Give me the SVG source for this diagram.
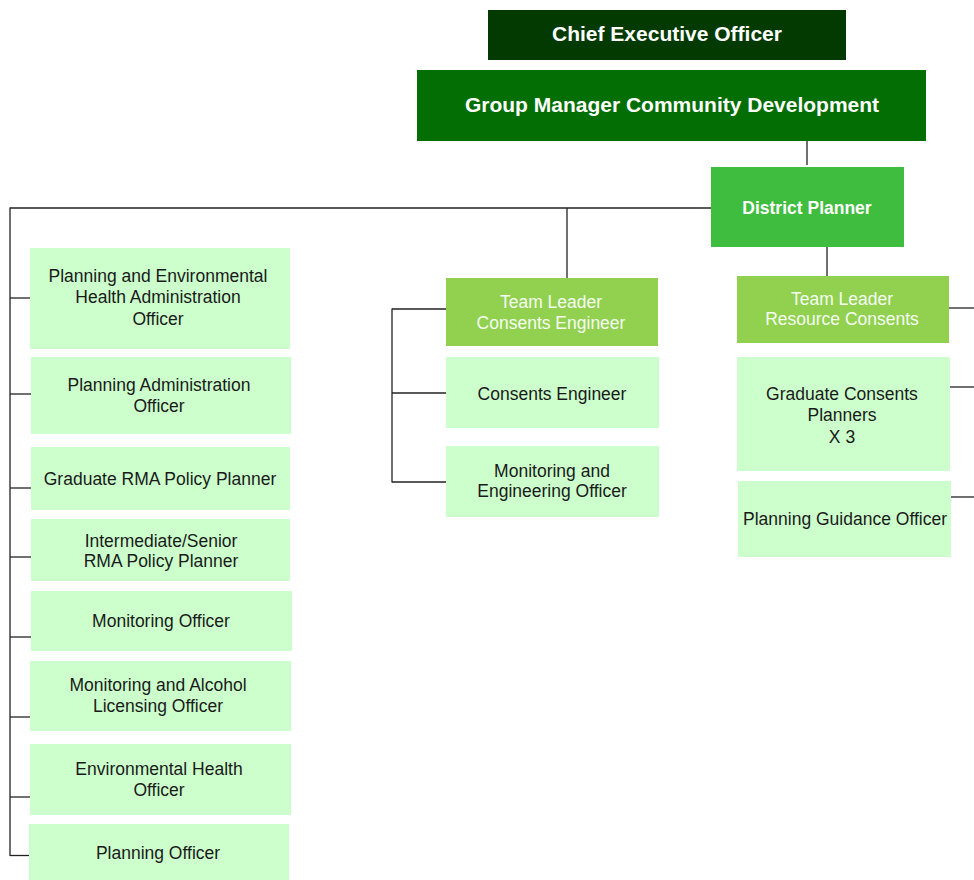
<svg xmlns="http://www.w3.org/2000/svg" width="974" height="880" viewBox="0 0 974 880">
<style>
text{font-family:"Liberation Sans",Arial,sans-serif;text-anchor:middle}
.t{font-size:17.5px;fill:#1a1a1a}
.w{font-size:17.5px;fill:#f4fff0}
.b{font-weight:bold;fill:#ffffff}
.lt{fill:#ccffcc}
.tl{fill:#92d050}
#conn line{stroke:#222;stroke-width:1.3}
</style>
<rect width="974" height="880" fill="#fff"/>
<g id="conn">
<line x1="807" y1="141" x2="807" y2="165"/>
<line x1="10" y1="208" x2="711" y2="208"/>
<line x1="10" y1="207.5" x2="10" y2="856"/>
<line x1="567" y1="208" x2="567" y2="278"/>
<line x1="827" y1="247" x2="827" y2="276"/>
<line x1="10" y1="298" x2="30" y2="298"/>
<line x1="10" y1="394" x2="31" y2="394"/>
<line x1="10" y1="488" x2="31" y2="488"/>
<line x1="10" y1="557" x2="31" y2="557"/>
<line x1="10" y1="637" x2="31" y2="637"/>
<line x1="10" y1="717" x2="30" y2="717"/>
<line x1="10" y1="797" x2="30" y2="797"/>
<line x1="10" y1="855.5" x2="29" y2="855.5"/>
<line x1="392" y1="308.5" x2="392" y2="482.5"/>
<line x1="392" y1="309" x2="446" y2="309"/>
<line x1="392" y1="393" x2="446" y2="393"/>
<line x1="392" y1="482" x2="446" y2="482"/>
<line x1="949" y1="308" x2="974" y2="308"/>
<line x1="950" y1="387" x2="974" y2="387"/>
<line x1="951" y1="497" x2="974" y2="497"/>
</g>
<g id="ceo"><rect x="488" y="10" width="358" height="50" fill="#023a02"/><text class="b" x="667" y="41" font-size="21">Chief Executive Officer</text></g>
<g id="gm"><rect x="417" y="70" width="509" height="71" fill="#036e03"/><text class="b" x="672" y="112" font-size="21">Group Manager Community Development</text></g>
<g id="dp"><rect x="711" y="167" width="193" height="80" fill="#3fbd3f"/><text class="b" x="807" y="214" font-size="17.5">District Planner</text></g>
<g id="n1"><rect class="lt" x="30" y="248" width="260" height="101"/><text class="t" x="158" y="282">Planning and Environmental</text><text class="t" x="158" y="303">Health Administration</text><text class="t" x="158" y="325">Officer</text></g>
<g id="n2"><rect class="lt" x="31" y="357" width="260" height="77"/><text class="t" x="159" y="391">Planning Administration</text><text class="t" x="159" y="412">Officer</text></g>
<g id="n3"><rect class="lt" x="31" y="447" width="259" height="63"/><text class="t" x="160" y="485">Graduate RMA Policy Planner</text></g>
<g id="n4"><rect class="lt" x="31" y="519" width="259" height="62"/><text class="t" x="161" y="547">Intermediate/Senior</text><text class="t" x="161" y="567"> RMA Policy Planner</text></g>
<g id="n5"><rect class="lt" x="31" y="591" width="261" height="60"/><text class="t" x="161" y="627">Monitoring Officer</text></g>
<g id="n6"><rect class="lt" x="30" y="661" width="261" height="70"/><text class="t" x="158" y="691">Monitoring and Alcohol</text><text class="t" x="158" y="712">Licensing Officer</text></g>
<g id="n7"><rect class="lt" x="30" y="744" width="261" height="71"/><text class="t" x="159" y="775">Environmental Health</text><text class="t" x="159" y="796">Officer</text></g>
<g id="n8"><rect class="lt" x="29" y="824" width="260" height="56"/><text class="t" x="158" y="859">Planning Officer</text></g>
<g id="tlce"><rect class="tl" x="446" y="278" width="212" height="68"/><text class="w" x="551" y="308">Team Leader</text><text class="w" x="551" y="329">Consents Engineer</text></g>
<g id="ce"><rect class="lt" x="446" y="357" width="213" height="71"/><text class="t" x="552" y="400">Consents Engineer</text></g>
<g id="meo"><rect class="lt" x="446" y="446" width="213" height="71"/><text class="t" x="552" y="477">Monitoring and</text><text class="t" x="552" y="497">Engineering Officer</text></g>
<g id="tlrc"><rect class="tl" x="737" y="276" width="212" height="67"/><text class="w" x="842" y="305">Team Leader</text><text class="w" x="842" y="325">Resource Consents</text></g>
<g id="gcp"><rect class="lt" x="737" y="357" width="213" height="114"/><text class="t" x="842" y="400">Graduate Consents</text><text class="t" x="842" y="421">Planners</text><text class="t" x="842" y="443">X 3</text></g>
<g id="pgo"><rect class="lt" x="738" y="481" width="213" height="76"/><text class="t" x="845" y="525">Planning Guidance Officer</text></g>
</svg>
